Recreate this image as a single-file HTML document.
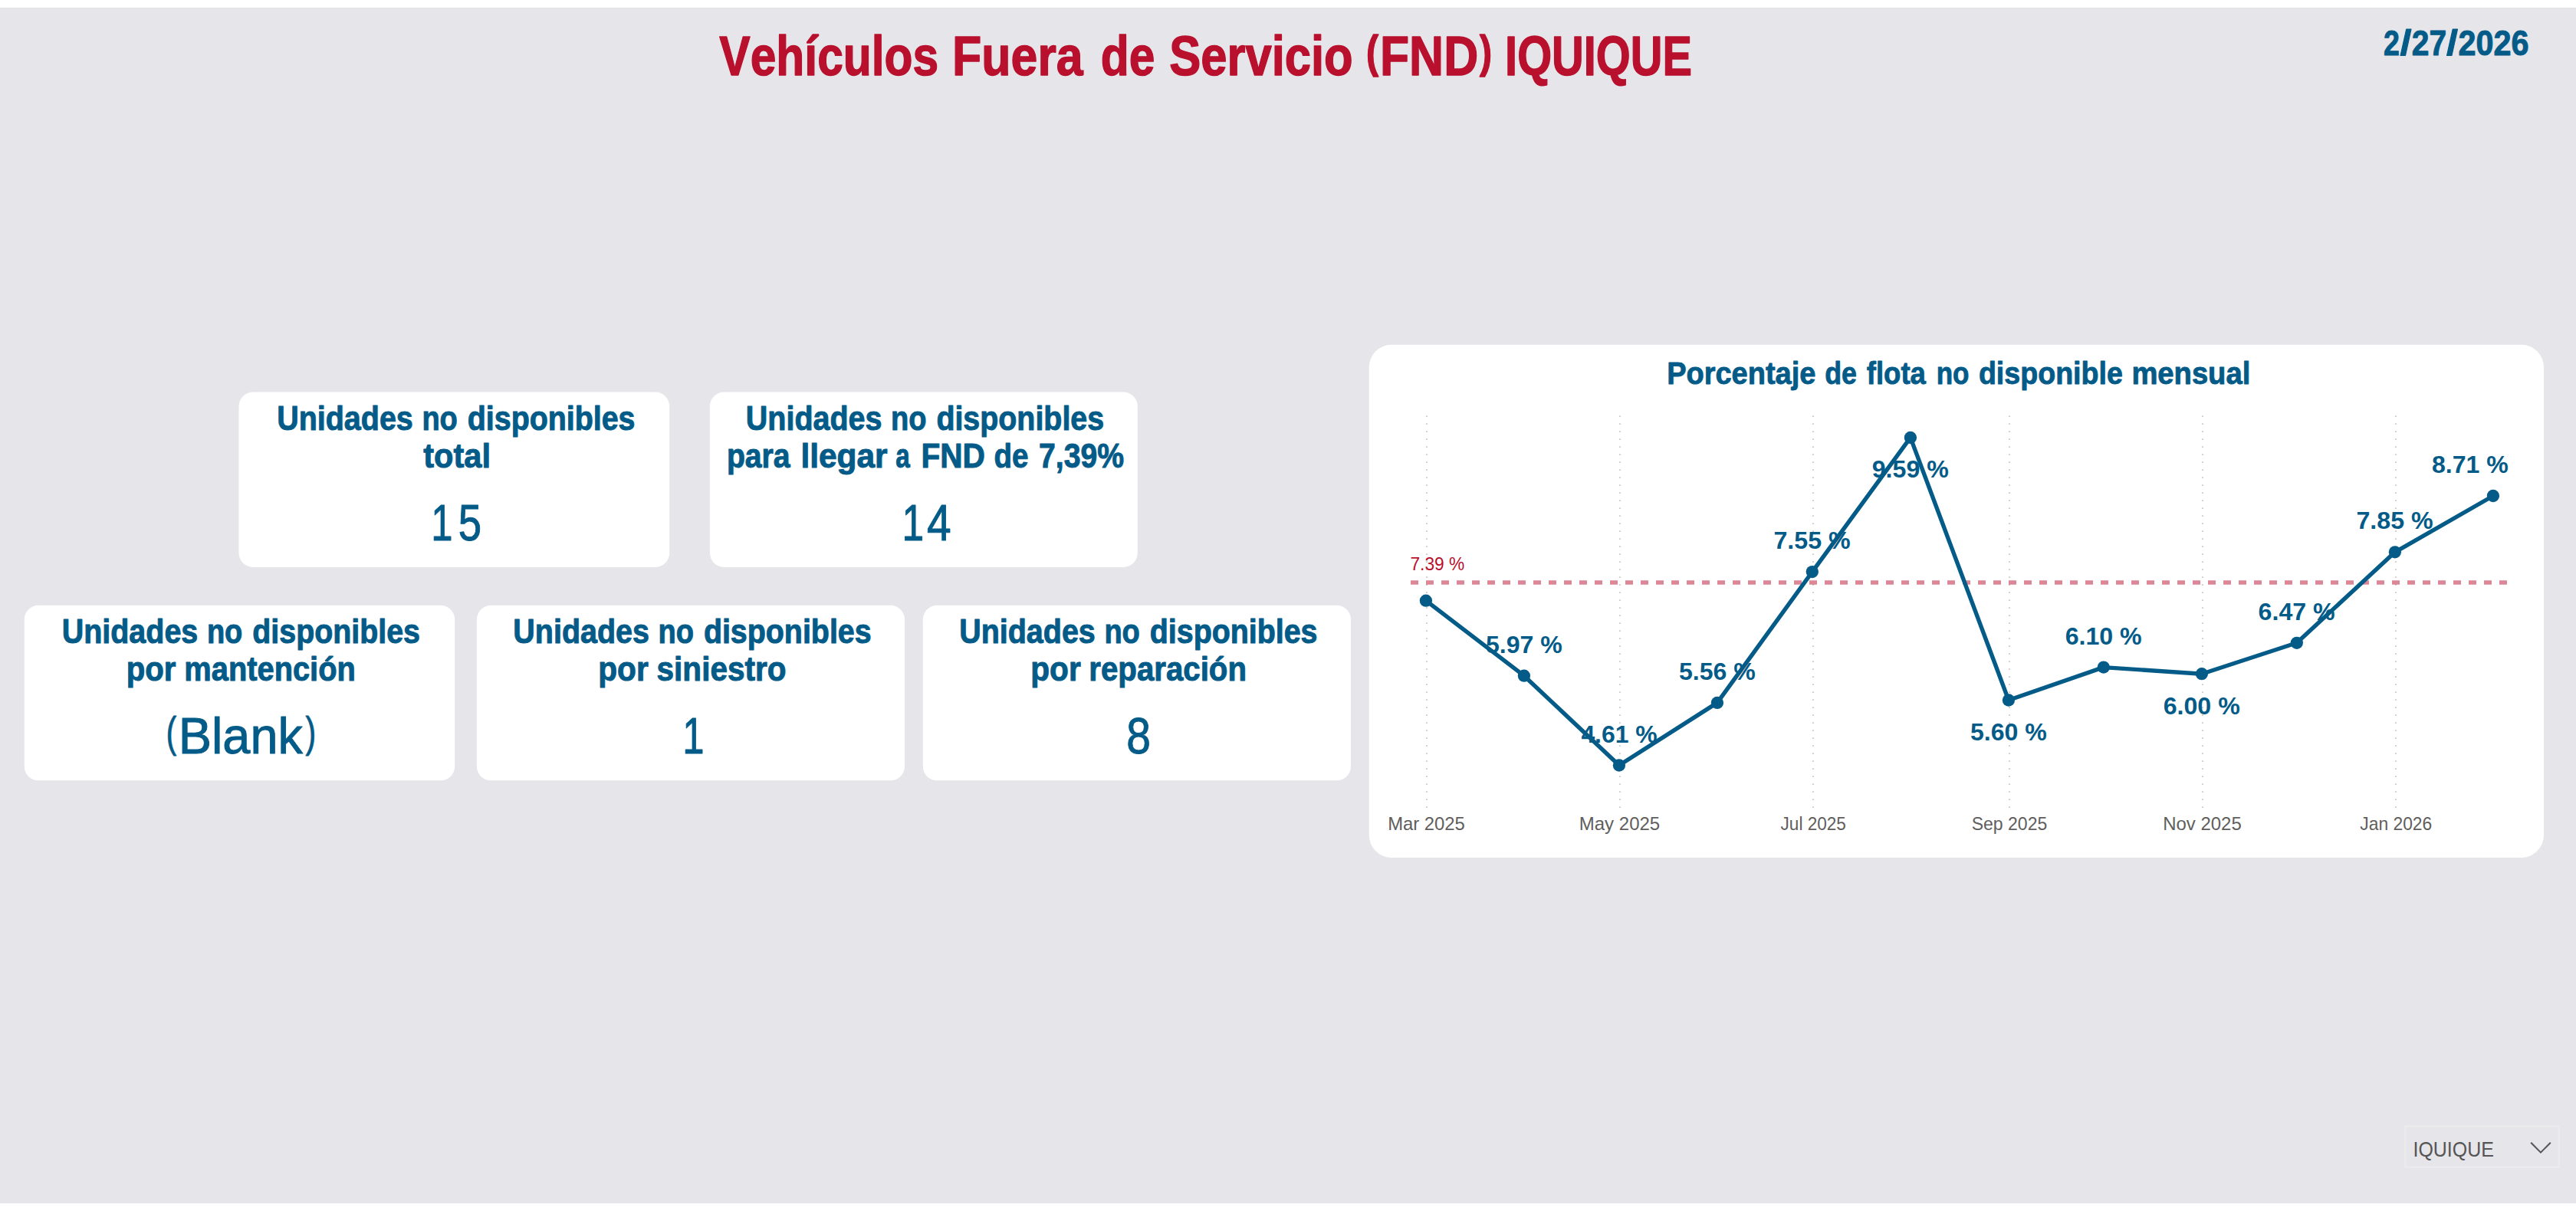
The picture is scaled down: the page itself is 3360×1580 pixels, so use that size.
<!DOCTYPE html>
<html lang="es"><head><meta charset="utf-8"><title>Vehículos Fuera de Servicio (FND) IQUIQUE</title>
<style>html,body{margin:0;padding:0;background:#fff}body{width:3360px;height:1580px;overflow:hidden}svg{display:block}text{font-family:"Liberation Sans",sans-serif;white-space:pre;font-kerning:none;font-variant-ligatures:none}.b{font-weight:700}</style></head><body>
<svg width="3360" height="1580" viewBox="0 0 3360 1580">
<rect x="0" y="10" width="3360" height="1560" fill="#E6E5EA"/>
<rect x="0" y="10" width="3360" height="1" fill="#E2E1E6"/>
<text y="98.00" font-size="71.50" class="b" fill="#B8102D" stroke="#B8102D" stroke-width="1.4" stroke-linejoin="round"><tspan x="938.29" y="98.00" textLength="286.00" lengthAdjust="spacingAndGlyphs">Vehículos</tspan> <tspan x="1242.01" y="98.00" textLength="170.64" lengthAdjust="spacingAndGlyphs">Fuera</tspan> <tspan x="1435.72" y="98.00" textLength="70.65" lengthAdjust="spacingAndGlyphs">de</tspan> <tspan x="1525.18" y="98.00" textLength="239.53" lengthAdjust="spacingAndGlyphs">Servicio</tspan> <tspan x="1782.05" font-size="59.65" y="88.42" textLength="16.05" lengthAdjust="spacingAndGlyphs">(</tspan><tspan x="1800.03" font-size="71.50" y="98.00" textLength="128.14" lengthAdjust="spacingAndGlyphs">FND</tspan><tspan x="1930.05" font-size="59.65" y="88.42" textLength="16.05" lengthAdjust="spacingAndGlyphs">)</tspan> <tspan x="1963.09" y="98.00" textLength="243.97" lengthAdjust="spacingAndGlyphs">IQUIQUE</tspan></text>
<text y="71.60" font-size="46.00" class="b" fill="#045B88" stroke="#045B88" stroke-width="1" stroke-linejoin="round"><tspan x="3109.10" y="71.60" textLength="20.91" lengthAdjust="spacingAndGlyphs">2</tspan><tspan x="3130.47" y="71.60" textLength="15.06" lengthAdjust="spacingAndGlyphs">/</tspan><tspan x="3145.84" y="71.60" textLength="45.36" lengthAdjust="spacingAndGlyphs">27</tspan><tspan x="3191.07" y="71.60" textLength="15.06" lengthAdjust="spacingAndGlyphs">/</tspan><tspan x="3206.47" y="71.60" textLength="91.93" lengthAdjust="spacingAndGlyphs">2026</tspan></text>
<rect x="311.5" y="511.5" width="561.7" height="228.4" rx="18.5" ry="18.5" fill="#fff"/>
<text y="560.70" font-size="44.80" class="b" fill="#045B88" stroke="#045B88" stroke-width="1" stroke-linejoin="round"><tspan x="361.23" y="560.70" textLength="177.59" lengthAdjust="spacingAndGlyphs">Unidades</tspan> <tspan x="550.39" y="560.70" textLength="46.50" lengthAdjust="spacingAndGlyphs">no</tspan> <tspan x="609.79" y="560.70" textLength="218.73" lengthAdjust="spacingAndGlyphs">disponibles</tspan></text>
<text y="609.60" font-size="44.80" class="b" fill="#045B88" stroke="#045B88" stroke-width="1" stroke-linejoin="round"><tspan x="552.24" y="609.60" textLength="87.70" lengthAdjust="spacingAndGlyphs">total</tspan></text>
<text y="704.90" font-size="66.00" fill="#045B88" stroke="#045B88" stroke-width="1" stroke-linejoin="round"><tspan x="562.20" y="704.90" textLength="28.30" lengthAdjust="spacingAndGlyphs">1</tspan><tspan x="597.72" y="704.90" textLength="30.32" lengthAdjust="spacingAndGlyphs">5</tspan></text>
<rect x="925.9" y="511.5" width="557.9" height="228.4" rx="18.5" ry="18.5" fill="#fff"/>
<text y="560.70" font-size="44.80" class="b" fill="#045B88" stroke="#045B88" stroke-width="1" stroke-linejoin="round"><tspan x="972.83" y="560.70" textLength="177.59" lengthAdjust="spacingAndGlyphs">Unidades</tspan> <tspan x="1161.99" y="560.70" textLength="46.50" lengthAdjust="spacingAndGlyphs">no</tspan> <tspan x="1221.39" y="560.70" textLength="218.73" lengthAdjust="spacingAndGlyphs">disponibles</tspan></text>
<text y="609.60" font-size="44.80" class="b" fill="#045B88" stroke="#045B88" stroke-width="1" stroke-linejoin="round"><tspan x="947.92" y="609.60" textLength="82.58" lengthAdjust="spacingAndGlyphs">para</tspan> <tspan x="1044.44" y="609.60" textLength="113.20" lengthAdjust="spacingAndGlyphs">llegar</tspan> <tspan x="1168.27" y="609.60" textLength="18.51" lengthAdjust="spacingAndGlyphs">a</tspan> <tspan x="1201.53" y="609.60" textLength="83.42" lengthAdjust="spacingAndGlyphs">FND</tspan> <tspan x="1296.42" y="609.60" textLength="45.00" lengthAdjust="spacingAndGlyphs">de</tspan> <tspan x="1355.07" y="609.60" textLength="111.07" lengthAdjust="spacingAndGlyphs">7,39%</tspan></text>
<text y="704.90" font-size="66.00" fill="#045B88" stroke="#045B88" stroke-width="1" stroke-linejoin="round"><tspan x="1176.43" y="704.90" textLength="28.76" lengthAdjust="spacingAndGlyphs">1</tspan><tspan x="1208.89" y="704.90" textLength="31.68" lengthAdjust="spacingAndGlyphs">4</tspan></text>
<rect x="31.7" y="789.8" width="561.5" height="228.5" rx="18.5" ry="18.5" fill="#fff"/>
<text y="839.00" font-size="44.80" class="b" fill="#045B88" stroke="#045B88" stroke-width="1" stroke-linejoin="round"><tspan x="80.73" y="839.00" textLength="177.59" lengthAdjust="spacingAndGlyphs">Unidades</tspan> <tspan x="269.89" y="839.00" textLength="46.50" lengthAdjust="spacingAndGlyphs">no</tspan> <tspan x="329.29" y="839.00" textLength="218.73" lengthAdjust="spacingAndGlyphs">disponibles</tspan></text>
<text y="887.90" font-size="44.80" class="b" fill="#045B88" stroke="#045B88" stroke-width="1" stroke-linejoin="round"><tspan x="164.75" y="887.90" textLength="64.76" lengthAdjust="spacingAndGlyphs">por</tspan> <tspan x="240.37" y="887.90" textLength="223.49" lengthAdjust="spacingAndGlyphs">mantención</tspan></text>
<text y="983.20" font-size="66.00" fill="#045B88" stroke="#045B88" stroke-width="1" stroke-linejoin="round"><tspan x="216.80" font-size="55.06" y="974.30" textLength="13.44" lengthAdjust="spacingAndGlyphs">(</tspan><tspan x="232.79" font-size="66.00" y="983.00" textLength="162.02" lengthAdjust="spacingAndGlyphs">Blank</tspan><tspan x="398.46" font-size="55.06" y="974.30" textLength="13.56" lengthAdjust="spacingAndGlyphs">)</tspan></text>
<rect x="621.9" y="789.8" width="558.1" height="228.5" rx="18.5" ry="18.5" fill="#fff"/>
<text y="839.00" font-size="44.80" class="b" fill="#045B88" stroke="#045B88" stroke-width="1" stroke-linejoin="round"><tspan x="669.33" y="839.00" textLength="177.59" lengthAdjust="spacingAndGlyphs">Unidades</tspan> <tspan x="858.49" y="839.00" textLength="46.50" lengthAdjust="spacingAndGlyphs">no</tspan> <tspan x="917.89" y="839.00" textLength="218.73" lengthAdjust="spacingAndGlyphs">disponibles</tspan></text>
<text y="887.90" font-size="44.80" class="b" fill="#045B88" stroke="#045B88" stroke-width="1" stroke-linejoin="round"><tspan x="780.32" y="887.90" textLength="65.39" lengthAdjust="spacingAndGlyphs">por</tspan> <tspan x="856.58" y="887.90" textLength="168.91" lengthAdjust="spacingAndGlyphs">siniestro</tspan></text>
<text y="983.20" font-size="66.00" fill="#045B88" stroke="#045B88" stroke-width="1" stroke-linejoin="round"><tspan x="890.30" y="983.20" textLength="28.30" lengthAdjust="spacingAndGlyphs">1</tspan></text>
<rect x="1203.8" y="789.8" width="558.2" height="228.5" rx="18.5" ry="18.5" fill="#fff"/>
<text y="839.00" font-size="44.80" class="b" fill="#045B88" stroke="#045B88" stroke-width="1" stroke-linejoin="round"><tspan x="1251.23" y="839.00" textLength="177.59" lengthAdjust="spacingAndGlyphs">Unidades</tspan> <tspan x="1440.39" y="839.00" textLength="46.50" lengthAdjust="spacingAndGlyphs">no</tspan> <tspan x="1499.79" y="839.00" textLength="218.73" lengthAdjust="spacingAndGlyphs">disponibles</tspan></text>
<text y="887.90" font-size="44.80" class="b" fill="#045B88" stroke="#045B88" stroke-width="1" stroke-linejoin="round"><tspan x="1344.32" y="887.90" textLength="65.39" lengthAdjust="spacingAndGlyphs">por</tspan> <tspan x="1420.35" y="887.90" textLength="205.65" lengthAdjust="spacingAndGlyphs">reparación</tspan></text>
<text y="983.20" font-size="66.00" fill="#045B88" stroke="#045B88" stroke-width="1" stroke-linejoin="round"><tspan x="1469.27" y="983.20" textLength="31.70" lengthAdjust="spacingAndGlyphs">8</tspan></text>
<rect x="1785.7" y="449.7" width="1532.3" height="669.3" rx="29.5" ry="29.5" fill="#fff"/>
<text y="500.50" font-size="41.50" class="b" fill="#045B88" stroke="#045B88" stroke-width="0.9" stroke-linejoin="round"><tspan x="2174.16" y="500.50" textLength="194.19" lengthAdjust="spacingAndGlyphs">Porcentaje</tspan> <tspan x="2380.23" y="500.50" textLength="41.79" lengthAdjust="spacingAndGlyphs">de</tspan> <tspan x="2434.83" y="500.50" textLength="76.99" lengthAdjust="spacingAndGlyphs">flota</tspan> <tspan x="2525.64" y="500.50" textLength="42.78" lengthAdjust="spacingAndGlyphs">no</tspan> <tspan x="2580.91" y="500.50" textLength="187.93" lengthAdjust="spacingAndGlyphs">disponible</tspan> <tspan x="2780.43" y="500.50" textLength="154.82" lengthAdjust="spacingAndGlyphs">mensual</tspan></text>
<line x1="1861.00" y1="542.3" x2="1861.00" y2="1054.2" stroke="#CFCDCB" stroke-width="2.1" stroke-dasharray="1.7 8.3"/>
<line x1="2112.97" y1="542.3" x2="2112.97" y2="1054.2" stroke="#CFCDCB" stroke-width="2.1" stroke-dasharray="1.7 8.3"/>
<line x1="2364.93" y1="542.3" x2="2364.93" y2="1054.2" stroke="#CFCDCB" stroke-width="2.1" stroke-dasharray="1.7 8.3"/>
<line x1="2621.03" y1="542.3" x2="2621.03" y2="1054.2" stroke="#CFCDCB" stroke-width="2.1" stroke-dasharray="1.7 8.3"/>
<line x1="2873.00" y1="542.3" x2="2873.00" y2="1054.2" stroke="#CFCDCB" stroke-width="2.1" stroke-dasharray="1.7 8.3"/>
<line x1="3124.96" y1="542.3" x2="3124.96" y2="1054.2" stroke="#CFCDCB" stroke-width="2.1" stroke-dasharray="1.7 8.3"/>
<text y="1083.10" font-size="24.40" fill="#605E5C"><tspan x="1810.17" textLength="100.71" lengthAdjust="spacingAndGlyphs">Mar 2025</tspan></text>
<text y="1083.10" font-size="24.40" fill="#605E5C"><tspan x="2059.75" textLength="105.48" lengthAdjust="spacingAndGlyphs">May 2025</tspan></text>
<text y="1083.10" font-size="24.40" fill="#605E5C"><tspan x="2322.58" textLength="85.30" lengthAdjust="spacingAndGlyphs">Jul 2025</tspan></text>
<text y="1083.10" font-size="24.40" fill="#605E5C"><tspan x="2571.74" textLength="98.51" lengthAdjust="spacingAndGlyphs">Sep 2025</tspan></text>
<text y="1083.10" font-size="24.40" fill="#605E5C"><tspan x="2821.28" textLength="102.47" lengthAdjust="spacingAndGlyphs">Nov 2025</tspan></text>
<text y="1083.10" font-size="24.40" fill="#605E5C"><tspan x="3078.36" textLength="93.86" lengthAdjust="spacingAndGlyphs">Jan 2026</tspan></text>
<line x1="1840" y1="760" x2="3271" y2="760" stroke="#B8102D" stroke-opacity="0.5" stroke-width="5.6" stroke-dasharray="10 10"/>
<text y="744.00" font-size="24.20" fill="#B8102D"><tspan x="1839.43" textLength="70.78" lengthAdjust="spacingAndGlyphs">7.39 %</tspan></text>
<polyline fill="none" stroke="#045B88" stroke-width="5.4" stroke-linejoin="round" stroke-linecap="round" points="1859.9,783.7 1987.9,881.7 2111.9,998.5 2239.9,916.9 2363.8,746.1 2491.9,570.9 2619.9,913.5 2743.8,870.6 2871.9,879.2 2995.8,838.8 3123.9,720.3 3251.9,647.0"/>
<circle cx="1859.9" cy="783.7" r="8.15" fill="#045B88"/>
<circle cx="1987.9" cy="881.7" r="8.15" fill="#045B88"/>
<circle cx="2111.9" cy="998.5" r="8.15" fill="#045B88"/>
<circle cx="2239.9" cy="916.9" r="8.15" fill="#045B88"/>
<circle cx="2363.8" cy="746.1" r="8.15" fill="#045B88"/>
<circle cx="2491.9" cy="570.9" r="8.15" fill="#045B88"/>
<circle cx="2619.9" cy="913.5" r="8.15" fill="#045B88"/>
<circle cx="2743.8" cy="870.6" r="8.15" fill="#045B88"/>
<circle cx="2871.9" cy="879.2" r="8.15" fill="#045B88"/>
<circle cx="2995.8" cy="838.8" r="8.15" fill="#045B88"/>
<circle cx="3123.9" cy="720.3" r="8.15" fill="#045B88"/>
<circle cx="3251.9" cy="647.0" r="8.15" fill="#045B88"/>
<text y="851.73" font-size="31.60" class="b" fill="#045B88"><tspan x="1937.96" textLength="99.83" lengthAdjust="spacingAndGlyphs">5.97 %</tspan></text>
<text y="968.50" font-size="31.60" class="b" fill="#045B88"><tspan x="2062.38" textLength="99.32" lengthAdjust="spacingAndGlyphs">4.61 %</tspan></text>
<text y="886.93" font-size="31.60" class="b" fill="#045B88"><tspan x="2189.93" textLength="99.83" lengthAdjust="spacingAndGlyphs">5.56 %</tspan></text>
<text y="716.07" font-size="31.60" class="b" fill="#045B88"><tspan x="2313.45" textLength="100.23" lengthAdjust="spacingAndGlyphs">7.55 %</tspan></text>
<text y="623.42" font-size="31.60" class="b" fill="#045B88"><tspan x="2441.77" textLength="99.96" lengthAdjust="spacingAndGlyphs">9.59 %</tspan></text>
<text y="966.00" font-size="31.60" class="b" fill="#045B88"><tspan x="2569.94" textLength="99.83" lengthAdjust="spacingAndGlyphs">5.60 %</tspan></text>
<text y="840.57" font-size="31.60" class="b" fill="#045B88"><tspan x="2693.67" textLength="100.02" lengthAdjust="spacingAndGlyphs">6.10 %</tspan></text>
<text y="931.65" font-size="31.60" class="b" fill="#045B88"><tspan x="2821.72" textLength="100.02" lengthAdjust="spacingAndGlyphs">6.00 %</tspan></text>
<text y="808.80" font-size="31.60" class="b" fill="#045B88"><tspan x="2945.64" textLength="100.02" lengthAdjust="spacingAndGlyphs">6.47 %</tspan></text>
<text y="690.31" font-size="31.60" class="b" fill="#045B88"><tspan x="3073.48" textLength="100.23" lengthAdjust="spacingAndGlyphs">7.85 %</tspan></text>
<text y="616.99" font-size="31.60" class="b" fill="#045B88"><tspan x="3171.98" textLength="99.86" lengthAdjust="spacingAndGlyphs">8.71 %</tspan></text>
<rect x="3137.3" y="1469.4" width="200.4" height="53.4" fill="none" stroke="#ECECEC" stroke-width="2"/>
<text y="1509.00" font-size="27.60" fill="#555"><tspan x="3147.50" textLength="105.38" lengthAdjust="spacingAndGlyphs">IQUIQUE</tspan></text>
<polyline fill="none" stroke="#555" stroke-width="2" points="3301.2,1490.7 3314,1503.6 3326.8,1490.7"/>
</svg></body></html>
